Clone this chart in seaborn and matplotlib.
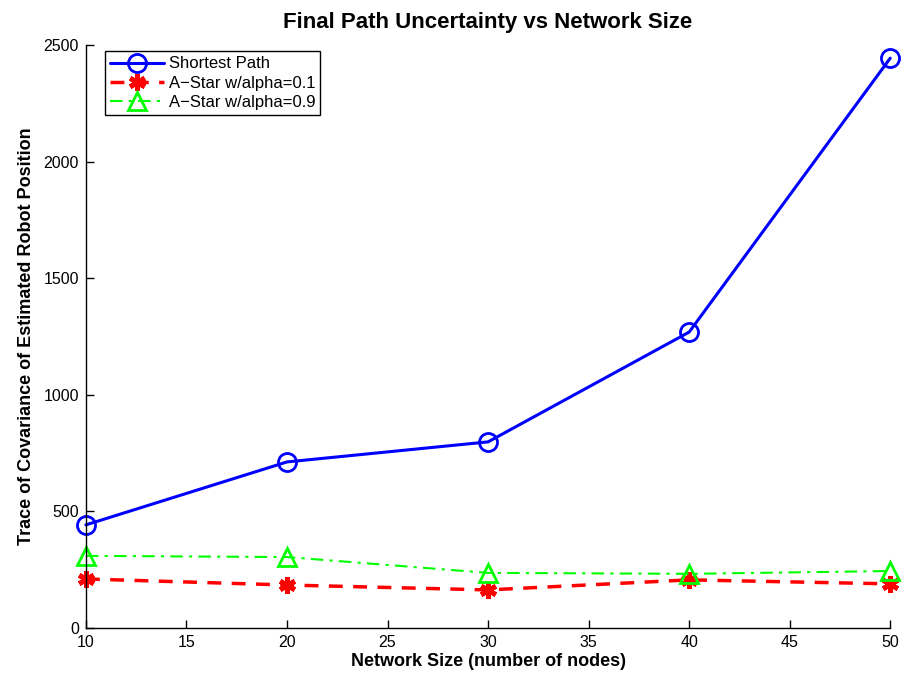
import pandas as pd
import matplotlib
matplotlib.use("Agg")
import matplotlib.pyplot as plt
import seaborn as sns

sns.set_style("white")
plt.rcParams['font.family'] = ['Liberation Sans', 'DejaVu Sans']
plt.rcParams['text.color'] = 'black'
plt.rcParams['axes.labelcolor'] = 'black'

network_size = [10, 20, 30, 40, 50]
shortest_path = [442, 712, 798, 1269, 2444]
astar_01 = [210, 184, 163, 206, 189]
astar_09 = [309, 304, 236, 232, 244]

df = pd.DataFrame({'size': network_size,
                   'shortest': shortest_path,
                   'a01': astar_01,
                   'a09': astar_09})

fig, ax = plt.subplots(1, 1, figsize=(9.14, 6.73), dpi=100)
fig.subplots_adjust(left=0.094, right=0.974, bottom=0.067, top=0.933)

sns.lineplot(data=df, x='size', y='shortest', ax=ax, color='#0000ff', lw=2.2,
             marker='o', markersize=13, markerfacecolor='none',
             markeredgecolor='#0000ff', markeredgewidth=2, label='Shortest Path',
             clip_on=False)
sns.lineplot(data=df, x='size', y='a01', ax=ax, color='#ff0000', lw=2.5,
             linestyle=(0, (4, 3)), marker=(6, 2, 0), markersize=12,
             markeredgewidth=3.5, markeredgecolor='#ff0000',
             label='A\u2212Star w/alpha=0.1', clip_on=False)
sns.lineplot(data=df, x='size', y='a09', ax=ax, color='#00ff00', lw=1.5,
             linestyle=(0, (6, 3, 1.5, 3)), marker='^', markersize=13,
             markerfacecolor='none', markeredgecolor='#00ff00',
             markeredgewidth=2, label='A\u2212Star w/alpha=0.9', clip_on=False)

ax.set_xlim(10, 50)
ax.set_ylim(0, 2500)
ax.set_xticks([10, 15, 20, 25, 30, 35, 40, 45, 50])
ax.set_yticks([0, 500, 1000, 1500, 2000, 2500])
ax.tick_params(direction='in', length=6, width=1, labelsize=11.5, colors='black',
               left=True, bottom=True, pad=5)
for s in ['top', 'right']:
    ax.spines[s].set_visible(False)
for s in ['left', 'bottom']:
    ax.spines[s].set_color('black')
    ax.spines[s].set_linewidth(1)

plt.title('Final Path Uncertainty vs Network Size', fontsize=16, fontweight='bold', pad=12)
ax.set_xlabel('Network Size (number of nodes)', fontsize=13, fontweight='bold', labelpad=2)
ax.set_ylabel('Trace of Covariance of Estimated Robot Position', fontsize=13,
              fontweight='bold', labelpad=6)

leg = ax.legend(loc='upper left', bbox_to_anchor=(0.02, 0.995), fontsize=12,
                frameon=True, fancybox=False, edgecolor='black', framealpha=1,
                borderpad=0.3, labelspacing=0.25, handlelength=3.2,
                handletextpad=0.3, borderaxespad=0.2)
leg.get_frame().set_linewidth(1)

plt.savefig('out.png', dpi=100)
plt.close()
